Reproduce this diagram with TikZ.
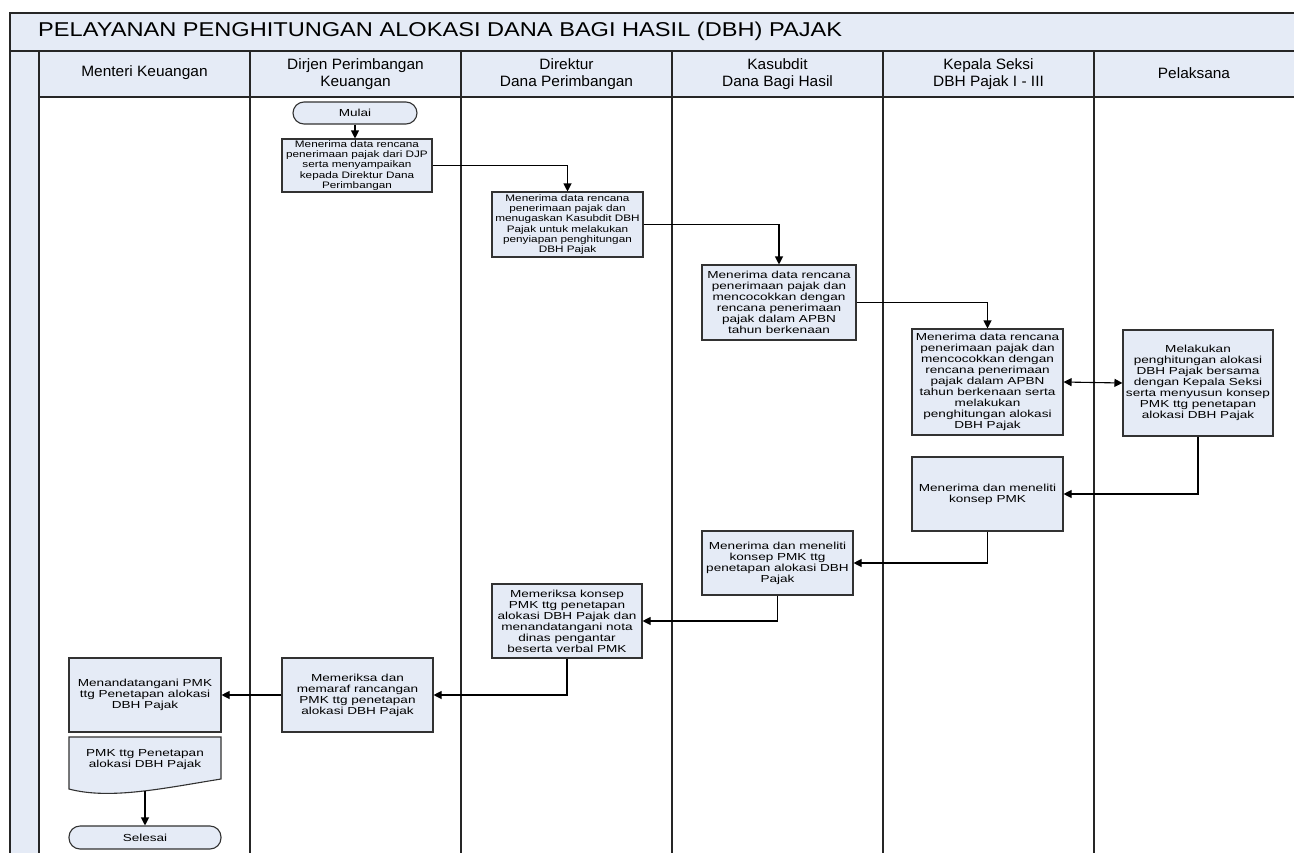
\documentclass[tikz,border=0pt]{standalone}
\usepackage{fontspec}
\setmainfont{Liberation Sans}
\newfontfamily\boxfont{Liberation Sans}[FakeStretch=1.33]
\newfontfamily\smallboxfont{Liberation Sans}[FakeStretch=1.25]
\newfontfamily\titlefont{Liberation Sans}[FakeStretch=1.18]
\newfontfamily\headfont{Liberation Sans}[FakeStretch=1.03]
\usetikzlibrary{arrows.meta}
\definecolor{lanefill}{RGB}{229,235,246}
\definecolor{boxfill}{RGB}{229,235,246}
\definecolor{boxline}{RGB}{50,50,50}
\tikzset{
  proc/.style={draw=boxline, fill=boxfill, line width=1.1pt, align=center, inner sep=1pt,
    font=\boxfont\fontsize{10.2}{11}\selectfont},
  procsmall/.style={proc, font=\smallboxfont\fontsize{9.4}{10.3}\selectfont},
  term/.style={proc, rounded corners=11pt},
  flow/.style={draw=black, line width=1.1pt, -{Triangle[length=8pt,width=8pt]}},
  biflow/.style={draw=black, line width=1.1pt, {Triangle[length=8pt,width=8pt]}-{Triangle[length=8pt,width=8pt]}},
  frameline/.style={draw=black!85, line width=1.4pt},
  lanehead/.style={align=center, inner sep=0pt, font=\headfont\fontsize{15}{16.5}\selectfont},
}
\begin{document}
\begin{tikzpicture}[x=1pt,y=-1pt]
\useasboundingbox (0,0) rectangle (1294,852);
\clip (0,0) rectangle (1294,852);
% background fills
\fill[white] (0,0) rectangle (1294,852);
\fill[lanefill] (10,13) rectangle (1300,97);
\fill[lanefill] (10,51) rectangle (39,860);
% frame lines
\draw[frameline] (10,860) -- (10,13) -- (1300,13);
\draw[frameline] (10,51) -- (1300,51);
\draw[frameline] (39,97) -- (1300,97);
\draw[frameline] (39,51) -- (39,860);
\foreach \x in {250,461,672,883,1094} {\draw[frameline] (\x,51) -- (\x,860);}
% title
\node[anchor=base west, inner sep=0pt, font=\titlefont\fontsize{20}{24}\selectfont] (title) at (38,36) {PELAYANAN PENGHITUNGAN ALOKASI DANA BAGI HASIL (DBH) PAJAK};
% lane headers
\node[lanehead] (h1) at (144.5,73) {Menteri Keuangan};
\node[lanehead] (h2) at (355.5,74) {Dirjen Perimbangan\\Keuangan};
\node[lanehead] (h3) at (566.5,74) {Direktur\\Dana Perimbangan};
\node[lanehead] (h4) at (777.5,74) {Kasubdit\\Dana Bagi Hasil};
\node[lanehead] (h5) at (988.5,74) {Kepala Seksi\\DBH Pajak I - III};
\node[lanehead] (h6) at (1194,73) {Pelaksana};
% process nodes
\node[term, minimum width=124pt, minimum height=22pt] (mulai) at (355,113) {Mulai};
\node[procsmall, minimum width=150pt, minimum height=53pt] (b1) at (357,165.5) {Menerima data rencana\\penerimaan pajak dari DJP\\serta menyampaikan\\kepada Direktur Dana\\Perimbangan};
\node[procsmall, minimum width=151pt, minimum height=65pt] (b2) at (567.5,224.5) {Menerima data rencana\\penerimaan pajak dan\\menugaskan Kasubdit DBH\\Pajak untuk melakukan\\penyiapan penghitungan\\DBH Pajak};
\node[proc, minimum width=154pt, minimum height=75pt] (b3) at (779,302.5) {Menerima data rencana\\penerimaan pajak dan\\mencocokkan dengan\\rencana penerimaan\\pajak dalam APBN\\tahun berkenaan};
\node[proc, minimum width=151pt, minimum height=106pt] (b4) at (987.5,382) {Menerima data rencana\\penerimaan pajak dan\\mencocokkan dengan\\rencana penerimaan\\pajak dalam APBN\\tahun berkenaan serta\\melakukan\\penghitungan alokasi\\DBH Pajak};
\node[proc, minimum width=150pt, minimum height=106pt] (b5) at (1198,383) {Melakukan\\penghitungan alokasi\\DBH Pajak bersama\\dengan Kepala Seksi\\serta menyusun konsep\\PMK ttg penetapan\\alokasi DBH Pajak};
\node[proc, minimum width=151pt, minimum height=74pt] (b6) at (987.5,494) {Menerima dan meneliti\\konsep PMK};
\node[proc, minimum width=151pt, minimum height=64pt] (b7) at (777.5,563) {Menerima dan meneliti\\konsep PMK ttg\\penetapan alokasi DBH\\Pajak};
\node[proc, minimum width=150pt, minimum height=74pt] (b8) at (567,621) {Memeriksa konsep\\PMK ttg penetapan\\alokasi DBH Pajak dan\\menandatangani nota\\dinas pengantar\\beserta verbal PMK};
\node[proc, minimum width=151pt, minimum height=74pt] (b9) at (357.5,695) {Memeriksa dan\\memaraf rancangan\\PMK ttg penetapan\\alokasi DBH Pajak};
\node[proc, minimum width=152pt, minimum height=74pt] (b10) at (145,695) {Menandatangani PMK\\ttg Penetapan alokasi\\DBH Pajak};
% document shape
\draw[fill=boxfill, draw=boxline, line width=1.1pt] (69,737) -- (221,737) -- (221,779)
  .. controls (165,788) and (110,800) .. (69,789) -- cycle;
\node[align=center, inner sep=0pt, font=\boxfont\fontsize{10.2}{11}\selectfont] (doc) at (145,760) {PMK ttg Penetapan\\alokasi DBH Pajak};
\coordinate (docb) at (145,791);
\node[term, minimum width=152pt, minimum height=23pt] (selesai) at (145,837.5) {Selesai};
% connectors
\draw[flow] (mulai.south) -- (mulai.south |- b1.north);
\draw[flow] (b1.east) -| (b2.north);
\draw[flow] (b2.east) -| (b3.north);
\draw[flow] (b3.east) -| (b4.north);
\draw[biflow] (b4.east) -- (b5.west);
\draw[flow] (b5.south) |- (b6.east);
\draw[flow] (b6.south) |- (b7.east);
\draw[flow] (b7.south) |- (b8.east);
\draw[flow] (b8.south) |- (b9.east);
\draw[flow] (b9.west) -- (b10.east);
\draw[flow] (docb) -- (selesai.north);
\end{tikzpicture}
\end{document}
